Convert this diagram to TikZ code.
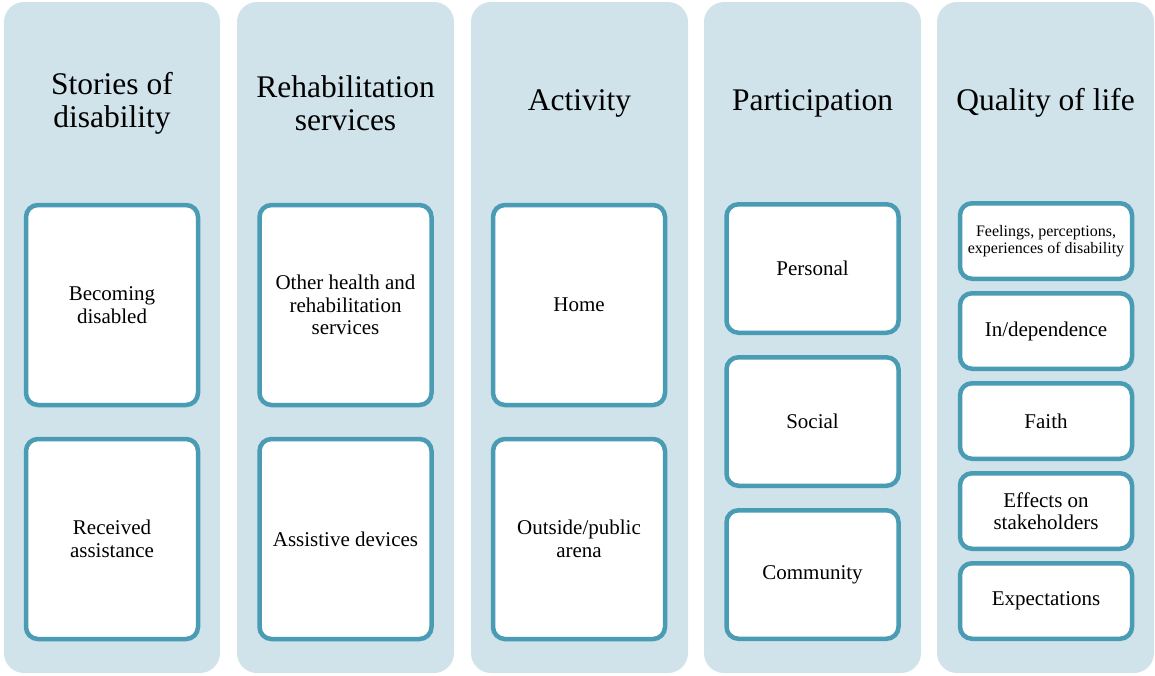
\documentclass[tikz,border=0pt]{standalone}
\usepackage{fontspec}
\setmainfont{Liberation Serif}
\definecolor{colfill}{HTML}{D0E2EA}
\definecolor{boxline}{HTML}{4A9CB5}

\begin{document}
\begin{tikzpicture}[x=1pt, y=-1pt,
    column/.style={fill=colfill, rounded corners=20pt},
    heading/.style={align=center, font=\fontsize{31.5}{33}\selectfont},
    item/.style={draw=boxline, line width=4.5pt, fill=white, rounded corners=12pt,
        align=center, inner sep=2pt, minimum width=172pt,
        font=\fontsize{21}{22.5}\selectfont},
    bigbox/.style={item, minimum height=200pt},
    midbox/.style={item, minimum height=128.5pt},
    smallbox/.style={item, minimum height=75.5pt}]
    \useasboundingbox (0,0) rectangle (1155,675);

    % background columns
    \fill[column] (4,2) rectangle (220,673);
    \fill[column] (237,2) rectangle (454,673);
    \fill[column] (471,2) rectangle (688,673);
    \fill[column] (704,2) rectangle (921,673);
    \fill[column] (937,2) rectangle (1154,673);

    % headings
    \node[heading] (stories) at (112,103) {Stories of\\disability};
    \node[heading] (rehab) at (345.5,103) {Rehabilitation\\services};
    \node[heading] (activity) at (579.5,103) {Activity};
    \node[heading] (particip) at (812.5,103) {Participation};
    \node[heading] (qol) at (1045.5,103) {Quality of life};

    % stories of disability
    \node[bigbox] (becoming) at (112,305) {Becoming\\disabled};
    \node[bigbox] (received) at (112,539) {Received\\assistance};

    % rehabilitation services
    \node[bigbox] (otherhealth) at (345.5,305) {Other health and\\rehabilitation\\services};
    \node[bigbox] (devices) at (345.5,539) {Assistive devices};

    % activity
    \node[bigbox] (home) at (579,305) {Home};
    \node[bigbox] (outside) at (579,539) {Outside/public\\arena};

    % participation
    \node[midbox] (personal) at (812.5,268.5) {Personal};
    \node[midbox] (social) at (812.5,421.5) {Social};
    \node[midbox] (community) at (812.5,574.5) {Community};

    % quality of life
    \node[smallbox, font=\fontsize{16}{17}\selectfont] (feelings) at (1046,241)
        {Feelings, perceptions,\\experiences of disability};
    \node[smallbox] (independ) at (1046,331) {In/dependence};
    \node[smallbox] (faith) at (1046,421) {Faith};
    \node[smallbox] (effects) at (1046,511) {Effects on\\stakeholders};
    \node[smallbox] (expect) at (1046,601) {Expectations};
\end{tikzpicture}
\end{document}
